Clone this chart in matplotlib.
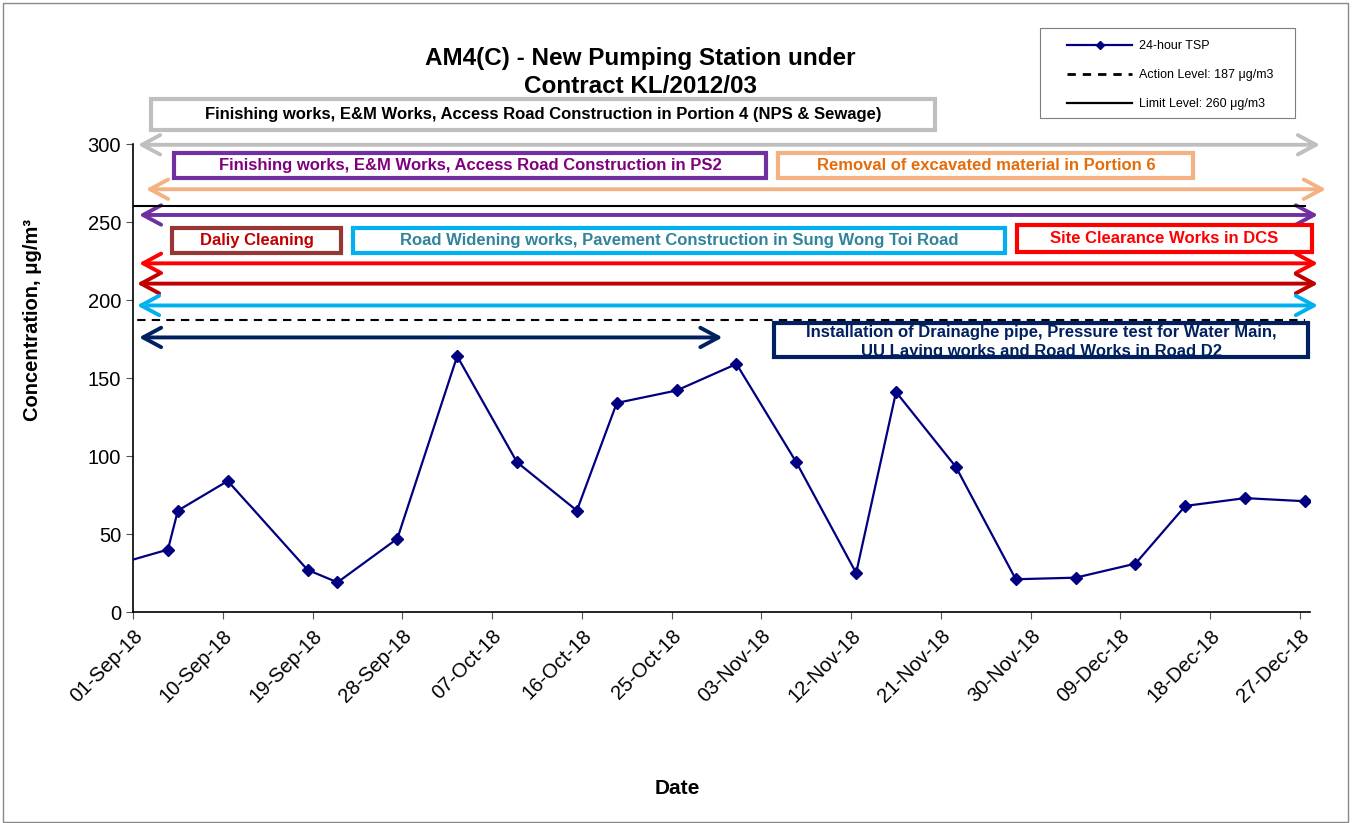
import numpy as np
import pandas as pd
import matplotlib
matplotlib.use('Agg')
import matplotlib.pyplot as plt
import matplotlib.dates as mdates
from matplotlib.patches import Rectangle, FancyArrowPatch, ArrowStyle
from matplotlib.lines import Line2D

plt.rcParams['font.family'] = ['Liberation Sans', 'DejaVu Sans']

# 24-hour TSP samples (taken around noon)
sample_dates = ['2018-08-29', '2018-09-04', '2018-09-05', '2018-09-10', '2018-09-18',
                '2018-09-21', '2018-09-27', '2018-10-03', '2018-10-09', '2018-10-15',
                '2018-10-19', '2018-10-25', '2018-10-31', '2018-11-06', '2018-11-12',
                '2018-11-16', '2018-11-22', '2018-11-28', '2018-12-04', '2018-12-10',
                '2018-12-15', '2018-12-21', '2018-12-27']
tsp = [29, 40, 65, 84, 27, 19, 47, 164, 96, 65, 134, 142, 159, 96, 25,
       141, 93, 21, 22, 31, 68, 73, 71]
action_level = 187
limit_level = 260
tick_dates = pd.date_range('2018-09-01', '2018-12-27', freq='9D')

# construction activities: arrow colour, first day, last day (days after 01-Sep-18), level
work_arrows = [
    ('#BFBFBF', 0.5, 119.0, 299.5),
    ('#F4B183', 1.3, 119.6, 271.0),
    ('#7030A0', 0.6, 118.8, 254.5),
    ('#FF0000', 0.6, 118.8, 223.5),
    ('#C00000', 0.4, 118.8, 210.5),
    ('#00B0F0', 0.4, 118.8, 196.5),
    ('#002060', 0.6, 59.1, 176.0),
]
# activity labels: text, box x0, x1 (days), y0, y1, edge colour, text colour
work_labels = [
    ('Finishing works, E&M Works, Access Road Construction in Portion 4 (NPS & Sewage)',
     1.8, 80.4, 309.0, 328.7, '#BFBFBF', 'black'),
    ('Finishing works, E&M Works, Access Road Construction in PS2',
     4.1, 63.5, 278.4, 294.4, '#7030A0', '#7F007F'),
    ('Removal of excavated material in Portion 6',
     64.7, 106.3, 278.2, 294.2, '#F4B183', '#E46C0A'),
    ('Daliy Cleaning', 3.9, 20.9, 230.3, 246.4, '#953735', '#C00000'),
    ('Road Widening works, Pavement Construction in Sung Wong Toi Road',
     22.1, 87.4, 230.3, 246.4, '#00B0F0', '#31849B'),
    ('Site Clearance Works in DCS', 88.6, 118.2, 231.0, 248.1, '#FF0000', '#FF0000'),
    ('Installation of Drainaghe pipe, Pressure test for Water Main,\n'
     'UU Laying works and Road Works in Road D2',
     64.3, 117.8, 163.7, 185.3, '#002060', '#002060'),
]

W, H = 1353, 823
fig = plt.figure(figsize=(W / 100, H / 100), dpi=100)
ax = fig.add_axes([133 / W, 1 - 612 / H, (1310 - 133) / W, (612 - 144) / H])

t = pd.to_datetime(sample_dates) + pd.Timedelta(hours=12)
ax.plot(t, [limit_level] * len(t), color='black', lw=1.5, zorder=3)
ax.plot(t, [action_level] * len(t), color='black', lw=1.5, ls=(0, (4, 3)), zorder=3)
ax.plot(t, tsp, color='#000080', lw=1.6, marker='D', ms=6.5, zorder=4)

start = pd.Timestamp('2018-09-01')
x0 = mdates.date2num(start)
ax.set_xlim(start, pd.Timestamp('2018-12-28'))
ax.set_ylim(0, 300)
ax.set_yticks(np.arange(0, 301, 50))
ax.set_xticks(tick_dates)
ax.xaxis.set_major_formatter(mdates.DateFormatter('%d-%b-%y'))
ax.tick_params(axis='both', labelsize=14.5, length=5, color='#555555', direction='out')
plt.setp(ax.get_xticklabels(), rotation=45, ha='right', va='top', rotation_mode='anchor')
ax.tick_params(axis='x', pad=5)
for s in ['top', 'right']:
    ax.spines[s].set_visible(False)
for s in ['left', 'bottom']:
    ax.spines[s].set_linewidth(1.2)

ax.set_ylabel('Concentration, μg/m³', fontsize=14.5, fontweight='bold')
ax.yaxis.set_label_coords(-0.077, 0.624)
fig.text(677 / W, 1 - 788 / H, 'Date', fontsize=15, fontweight='bold', ha='center', va='center')
fig.text(640 / W, 1 - 72.5 / H, 'AM4(C) - New Pumping Station under\nContract KL/2012/03',
         fontsize=17.5, fontweight='bold', ha='center', va='center', linespacing=1.3)

for col, d0, d1, lev in work_arrows:
    arr = FancyArrowPatch((x0 + d0, lev), (x0 + d1, lev),
                          arrowstyle=ArrowStyle('<->', head_length=13, head_width=7),
                          mutation_scale=1, lw=2.8, color=col, shrinkA=0, shrinkB=0,
                          clip_on=False, zorder=2)
    ax.add_patch(arr)

for txt, b0, b1, y0, y1, ec, tc in work_labels:
    rect = Rectangle((x0 + b0, y0), b1 - b0, y1 - y0, facecolor='white', edgecolor='none',
                     clip_on=False, zorder=5)
    ax.add_patch(rect)
    ax.add_patch(Rectangle((x0 + b0, y0), b1 - b0, y1 - y0, fill=False, edgecolor=ec,
                           lw=3, clip_on=False, zorder=7))
    if '\n' in txt:
        # text overflows its box and gets cut by the frame
        tx = ax.text(x0 + (b0 + b1) / 2, 173.3, txt, ha='center', va='center',
                     fontsize=12, fontweight='bold', color=tc, zorder=6, linespacing=1.35)
        tx.set_clip_path(rect)
        tx.set_clip_on(True)
    else:
        ax.text(x0 + (b0 + b1) / 2, (y0 + y1) / 2, txt, ha='center', va='center',
                fontsize=12, fontweight='bold', color=tc, zorder=6, clip_on=False)

handles = [Line2D([], [], color='#000080', lw=1.6, marker='D', ms=4),
           Line2D([], [], color='black', lw=2, ls=(0, (3, 2.5))),
           Line2D([], [], color='black', lw=1.6)]
labels = ['24-hour TSP', 'Action Level: 187 μg/m3', 'Limit Level: 260 μg/m3']
fig.legend(handles, labels, loc='upper left', bbox_to_anchor=(1061 / W, 1 - 34 / H),
           frameon=False, fontsize=9, borderpad=0, handlelength=5.2, handletextpad=0.55,
           labelspacing=1.35, numpoints=1)
fig.add_artist(Rectangle((1040 / W, 1 - 118 / H), 255 / W, 90 / H, transform=fig.transFigure,
                         fill=False, edgecolor='#7F7F7F', lw=0.8))
fig.add_artist(Rectangle((3 / W, 1 / H), 1345 / W, 819 / H, transform=fig.transFigure,
                         fill=False, edgecolor='#888888', lw=1))

fig.savefig('out.png', dpi=100)
